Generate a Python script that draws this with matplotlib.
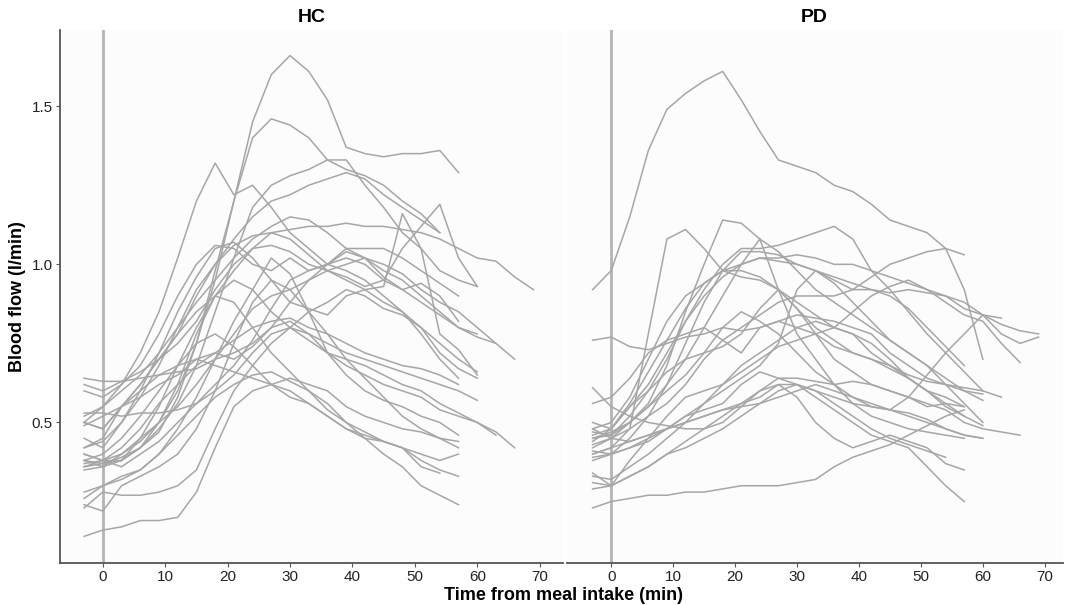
import numpy as np
import matplotlib
matplotlib.use('Agg')
import matplotlib.pyplot as plt

plt.rcParams['font.family'] = ['Liberation Sans', 'DejaVu Sans']

# samples every 3 min, first sample at -3 min
t_start = -3
t_step = 3

hc_series = [
    [0.40, 0.38, 0.40, 0.44, 0.50, 0.60, 0.75, 0.95, 1.20, 1.45, 1.60, 1.66, 1.61, 1.52, 1.37, 1.35, 1.34, 1.35, 1.35, 1.36, 1.29],
    [0.38, 0.37, 0.39, 0.42, 0.47, 0.58, 0.75, 0.98, 1.20, 1.40, 1.46, 1.44, 1.40, 1.33, 1.30, 1.28, 1.25, 1.20, 1.16, 1.10],
    [0.52, 0.55, 0.62, 0.72, 0.85, 1.02, 1.20, 1.32, 1.22, 1.25, 1.18, 1.10, 1.05, 1.00, 0.98, 0.95, 0.90, 0.85, 0.78, 0.70, 0.64],
    [0.36, 0.37, 0.38, 0.42, 0.48, 0.56, 0.68, 0.85, 1.02, 1.18, 1.25, 1.28, 1.30, 1.33, 1.33, 1.25, 1.18, 1.10, 1.05, 0.98, 0.95, 0.93],
    [0.50, 0.48, 0.55, 0.62, 0.70, 0.78, 0.90, 1.00, 1.08, 1.15, 1.20, 1.22, 1.25, 1.27, 1.29, 1.27, 1.22, 1.18, 1.14, 1.10],
    [0.42, 0.44, 0.50, 0.58, 0.68, 0.80, 0.92, 1.00, 1.06, 1.09, 1.10, 1.11, 1.12, 1.12, 1.13, 1.12, 1.12, 1.11, 1.10, 1.08, 1.05, 1.02, 1.01, 0.96, 0.92],
    [0.62, 0.60, 0.63, 0.66, 0.70, 0.75, 0.82, 0.92, 1.00, 1.05, 1.06, 1.04, 1.00, 0.98, 0.96, 0.93, 0.95, 1.05, 1.12, 1.19, 1.02, 0.93],
    [0.38, 0.36, 0.38, 0.45, 0.55, 0.68, 0.80, 0.90, 0.98, 1.05, 1.10, 1.08, 1.03, 0.98, 0.95, 0.92, 0.93, 1.16, 1.05, 0.78, 0.73, 0.65],
    [0.50, 0.55, 0.60, 0.65, 0.72, 0.80, 0.88, 0.95, 1.02, 1.08, 1.12, 1.15, 1.14, 1.10, 1.05, 1.02, 0.98, 0.95, 0.90, 0.85, 0.80, 0.78],
    [0.60, 0.58, 0.62, 0.68, 0.78, 0.90, 1.00, 1.06, 1.05, 1.00, 0.98, 1.02, 0.98, 1.00, 1.04, 1.02, 0.96, 0.92, 0.88, 0.84, 0.80, 0.77, 0.75],
    [0.35, 0.36, 0.40, 0.45, 0.50, 0.55, 0.62, 0.70, 0.78, 0.86, 0.90, 0.92, 0.95, 0.98, 1.00, 1.02, 1.00, 0.97, 0.92, 0.88, 0.85, 0.80, 0.75, 0.70],
    [0.45, 0.42, 0.50, 0.60, 0.72, 0.85, 0.96, 1.05, 1.07, 1.02, 0.95, 0.88, 0.86, 0.84, 0.90, 0.92, 0.88, 0.85, 0.80, 0.72, 0.67, 0.64],
    [0.40, 0.38, 0.42, 0.48, 0.56, 0.62, 0.68, 0.72, 0.76, 0.80, 0.82, 0.83, 0.80, 0.78, 0.75, 0.72, 0.70, 0.68, 0.67, 0.65, 0.62],
    [0.37, 0.38, 0.38, 0.42, 0.50, 0.62, 0.78, 0.90, 0.95, 0.92, 0.85, 0.80, 0.78, 0.75, 0.72, 0.70, 0.68, 0.66, 0.64, 0.62, 0.60, 0.57],
    [0.64, 0.63, 0.63, 0.64, 0.65, 0.66, 0.67, 0.70, 0.72, 0.75, 0.80, 0.82, 0.78, 0.72, 0.68, 0.65, 0.62, 0.60, 0.58, 0.54, 0.52, 0.50, 0.46],
    [0.53, 0.53, 0.52, 0.53, 0.53, 0.54, 0.56, 0.60, 0.65, 0.72, 0.78, 0.80, 0.76, 0.72, 0.70, 0.68, 0.65, 0.62, 0.60, 0.56, 0.53, 0.50, 0.47, 0.42],
    [0.28, 0.30, 0.32, 0.35, 0.40, 0.48, 0.58, 0.70, 0.82, 0.92, 1.02, 0.97, 0.85, 0.72, 0.65, 0.60, 0.57, 0.55, 0.52, 0.50, 0.46],
    [0.24, 0.22, 0.30, 0.33, 0.36, 0.40, 0.48, 0.60, 0.75, 0.88, 0.95, 0.92, 0.85, 0.78, 0.70, 0.64, 0.58, 0.52, 0.48, 0.45, 0.42],
    [0.49, 0.52, 0.55, 0.60, 0.65, 0.68, 0.70, 0.68, 0.66, 0.64, 0.62, 0.60, 0.56, 0.52, 0.48, 0.45, 0.44, 0.42, 0.40, 0.38, 0.40],
    [0.42, 0.45, 0.55, 0.62, 0.70, 0.78, 0.85, 0.90, 0.88, 0.80, 0.72, 0.66, 0.60, 0.54, 0.50, 0.47, 0.44, 0.42, 0.38, 0.35, 0.33],
    [0.38, 0.40, 0.45, 0.52, 0.60, 0.68, 0.75, 0.78, 0.74, 0.68, 0.62, 0.58, 0.56, 0.52, 0.48, 0.46, 0.44, 0.42, 0.36, 0.34],
    [0.26, 0.30, 0.33, 0.35, 0.40, 0.46, 0.52, 0.58, 0.62, 0.65, 0.66, 0.63, 0.60, 0.56, 0.50, 0.45, 0.40, 0.36, 0.30, 0.27, 0.24],
    [0.14, 0.16, 0.17, 0.19, 0.19, 0.20, 0.28, 0.42, 0.55, 0.60, 0.62, 0.64, 0.62, 0.60, 0.55, 0.52, 0.50, 0.48, 0.47, 0.45, 0.44],
    [0.23, 0.28, 0.27, 0.27, 0.28, 0.30, 0.35, 0.48, 0.60, 0.68, 0.75, 0.80, 0.85, 0.88, 0.92, 0.90, 0.86, 0.84, 0.80, 0.75, 0.70, 0.66],
    [0.50, 0.48, 0.55, 0.58, 0.62, 0.65, 0.70, 0.72, 0.70, 0.74, 0.80, 0.88, 0.95, 1.00, 1.02, 1.00, 0.95, 0.92, 0.94, 0.90, 0.82],
    [0.36, 0.38, 0.36, 0.40, 0.44, 0.50, 0.56, 0.62, 0.68, 0.76, 0.86, 0.95, 0.98, 1.00, 1.05, 1.05, 1.05, 1.02, 0.98, 0.94, 0.90],
]

pd_series = [
    [0.92, 0.98, 1.15, 1.36, 1.49, 1.54, 1.58, 1.61, 1.52, 1.42, 1.33, 1.31, 1.29, 1.25, 1.23, 1.19, 1.14, 1.12, 1.10, 1.05, 1.03],
    [0.45, 0.47, 0.50, 0.56, 0.68, 0.85, 1.00, 1.14, 1.13, 1.08, 1.04, 0.98, 0.92, 0.88, 0.84, 0.80, 0.76, 0.72, 0.68, 0.64, 0.60, 0.57],
    [0.40, 0.42, 0.48, 0.78, 1.08, 1.11, 1.05, 0.98, 0.96, 0.95, 0.92, 0.88, 0.84, 0.80, 0.78, 0.72, 0.68, 0.64, 0.60, 0.58, 0.55],
    [0.48, 0.45, 0.50, 0.55, 0.62, 0.70, 0.80, 0.90, 1.00, 1.08, 0.92, 0.78, 0.70, 0.62, 0.56, 0.52, 0.50, 0.48, 0.47, 0.46, 0.45],
    [0.45, 0.46, 0.52, 0.60, 0.70, 0.82, 0.92, 1.00, 1.05, 1.05, 1.06, 1.08, 1.10, 1.12, 1.08, 0.98, 0.92, 0.85, 0.78, 0.72, 0.66, 0.60],
    [0.50, 0.48, 0.55, 0.62, 0.72, 0.82, 0.90, 0.96, 1.00, 1.02, 1.02, 1.03, 1.02, 1.00, 1.00, 0.98, 0.96, 0.94, 0.92, 0.90, 0.86, 0.84, 0.83],
    [0.43, 0.45, 0.48, 0.52, 0.56, 0.62, 0.70, 0.76, 0.80, 0.84, 0.88, 0.90, 0.90, 0.90, 0.92, 0.92, 0.91, 0.92, 0.91, 0.90, 0.88, 0.84, 0.78, 0.75, 0.77],
    [0.39, 0.40, 0.42, 0.45, 0.48, 0.52, 0.56, 0.60, 0.64, 0.68, 0.75, 0.92, 0.98, 0.95, 0.92, 0.96, 1.00, 1.02, 1.04, 1.05, 0.92, 0.70],
    [0.33, 0.32, 0.36, 0.40, 0.45, 0.50, 0.56, 0.62, 0.66, 0.70, 0.74, 0.76, 0.78, 0.80, 0.85, 0.90, 0.93, 0.95, 0.92, 0.88, 0.84, 0.82, 0.75, 0.69],
    [0.76, 0.77, 0.74, 0.73, 0.75, 0.77, 0.78, 0.80, 0.79, 0.80, 0.82, 0.80, 0.78, 0.74, 0.72, 0.70, 0.68, 0.65, 0.63, 0.62, 0.60, 0.59],
    [0.56, 0.58, 0.64, 0.72, 0.76, 0.78, 0.80, 0.76, 0.72, 0.80, 0.82, 0.84, 0.83, 0.82, 0.80, 0.78, 0.72, 0.68, 0.64, 0.62, 0.61, 0.60, 0.58],
    [0.61, 0.55, 0.52, 0.50, 0.49, 0.48, 0.48, 0.50, 0.55, 0.60, 0.64, 0.64, 0.63, 0.62, 0.63, 0.62, 0.60, 0.58, 0.56, 0.54, 0.50, 0.48, 0.47, 0.46],
    [0.47, 0.46, 0.50, 0.55, 0.60, 0.65, 0.72, 0.80, 0.85, 0.82, 0.78, 0.72, 0.66, 0.62, 0.58, 0.56, 0.54, 0.52, 0.50, 0.48, 0.46, 0.45],
    [0.42, 0.45, 0.44, 0.46, 0.48, 0.52, 0.54, 0.56, 0.62, 0.66, 0.64, 0.62, 0.60, 0.58, 0.56, 0.55, 0.54, 0.53, 0.51, 0.48, 0.46, 0.45],
    [0.46, 0.48, 0.55, 0.60, 0.66, 0.70, 0.72, 0.74, 0.78, 0.86, 0.92, 0.86, 0.78, 0.70, 0.66, 0.62, 0.60, 0.58, 0.55, 0.56, 0.52],
    [0.38, 0.40, 0.42, 0.44, 0.48, 0.50, 0.52, 0.54, 0.56, 0.58, 0.62, 0.62, 0.60, 0.56, 0.52, 0.48, 0.45, 0.43, 0.41, 0.39],
    [0.31, 0.30, 0.33, 0.36, 0.40, 0.44, 0.48, 0.52, 0.56, 0.60, 0.62, 0.58, 0.50, 0.45, 0.42, 0.44, 0.46, 0.44, 0.42, 0.37, 0.35],
    [0.29, 0.30, 0.33, 0.36, 0.40, 0.42, 0.45, 0.48, 0.52, 0.56, 0.60, 0.62, 0.58, 0.54, 0.50, 0.46, 0.44, 0.42, 0.36, 0.30, 0.25],
    [0.23, 0.25, 0.26, 0.27, 0.27, 0.28, 0.28, 0.29, 0.30, 0.30, 0.30, 0.31, 0.32, 0.36, 0.39, 0.41, 0.43, 0.46, 0.49, 0.52, 0.54],
    [0.40, 0.42, 0.44, 0.46, 0.48, 0.50, 0.52, 0.54, 0.55, 0.56, 0.58, 0.60, 0.62, 0.60, 0.58, 0.55, 0.54, 0.58, 0.65, 0.72, 0.78, 0.84, 0.81, 0.79, 0.78],
    [0.41, 0.40, 0.45, 0.52, 0.62, 0.75, 0.88, 0.98, 1.04, 1.04, 1.03, 1.00, 0.98, 0.96, 0.94, 0.92, 0.90, 0.86, 0.80, 0.74, 0.68],
    [0.44, 0.48, 0.56, 0.66, 0.76, 0.86, 0.94, 0.98, 0.98, 0.96, 0.92, 0.86, 0.80, 0.76, 0.72, 0.70, 0.67, 0.64, 0.60, 0.56, 0.55],
    [0.48, 0.50, 0.58, 0.70, 0.82, 0.90, 0.94, 0.98, 1.00, 1.02, 1.01, 1.00, 0.98, 0.94, 0.88, 0.82, 0.76, 0.72, 0.68, 0.62, 0.56, 0.50],
    [0.34, 0.30, 0.38, 0.45, 0.52, 0.58, 0.60, 0.62, 0.68, 0.72, 0.76, 0.80, 0.82, 0.80, 0.78, 0.75, 0.70, 0.64, 0.60, 0.55, 0.52, 0.49],
]

panel_titles = ['HC', 'PD']
x_ticks = [0, 10, 20, 30, 40, 50, 60, 70]
y_ticks = [0.5, 1.0, 1.5]

line_col = '#a6a6a6'
fig = plt.figure(figsize=(10.67, 6.05), dpi=100)
fig.patch.set_facecolor('white')
ax_l = fig.add_axes([0.056, 0.069, 0.472, 0.881])
ax_r = fig.add_axes([0.531, 0.069, 0.465, 0.881], sharey=ax_l)

for ax, series, title, xlim in [(ax_l, hc_series, panel_titles[0], (-6.9, 73.8)),
                                 (ax_r, pd_series, panel_titles[1], (-7.2, 72.9))]:
    ax.set_facecolor('#fcfcfc')
    ax.axvline(0, color='#b5b5b5', lw=2, zorder=1)
    for vals in series:
        t = t_start + t_step * np.arange(len(vals))
        ax.plot(t, vals, color=line_col, lw=1.1, zorder=2)
    ax.set_xlim(*xlim)
    ax.set_ylim(0.055, 1.74)
    ax.set_xticks(x_ticks)
    ax.set_title(title, fontsize=14, fontweight='bold', pad=6)
    for s in ['top', 'right']:
        ax.spines[s].set_visible(False)
    ax.spines['bottom'].set_color('#555555')
    ax.spines['bottom'].set_linewidth(1.3)
    ax.tick_params(axis='both', labelsize=11, colors='#222222', length=3,
                   color='#555555', pad=2)

ax_l.spines['left'].set_color('#555555')
ax_l.spines['left'].set_linewidth(1.3)
ax_l.set_yticks(y_ticks)
ax_l.set_yticklabels(['0.5', '1.0', '1.5'])
ax_l.set_ylabel('Blood flow (l/min)', fontsize=13, fontweight='bold')
ax_r.spines['left'].set_visible(False)
ax_r.tick_params(axis='y', left=False, labelleft=False)

fig.text(0.528, 0.002, 'Time from meal intake (min)', ha='center', va='bottom',
         fontsize=13, fontweight='bold')

fig.savefig('out.png', dpi=100, facecolor='white')
